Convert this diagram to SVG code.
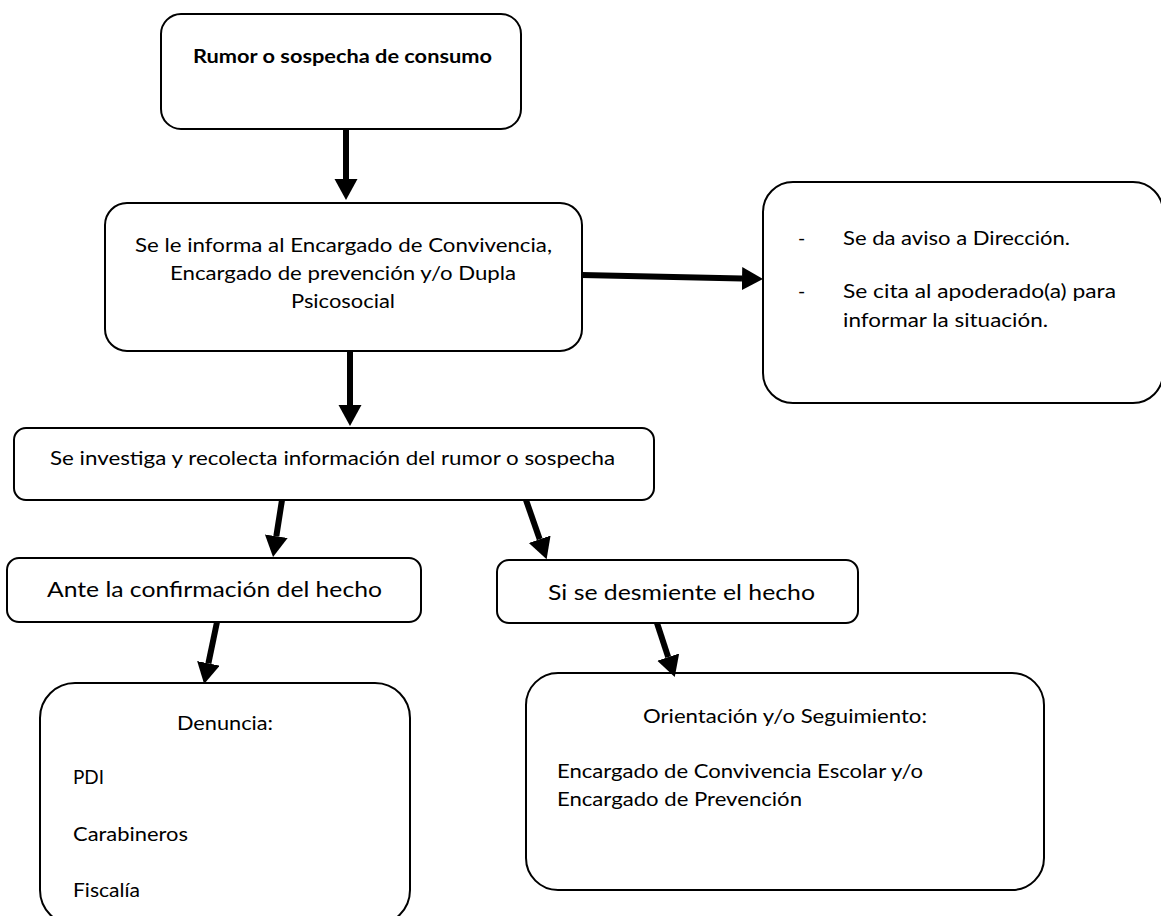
<svg xmlns="http://www.w3.org/2000/svg" width="1161" height="916" viewBox="0 0 1161 916">
<style>
.box{fill:#fff;stroke:#000;stroke-width:2}
.t{font-family:Lato,"Liberation Sans",sans-serif;font-size:19.5px;fill:#000}
.big{font-size:22px}
.b{font-weight:bold}
.arr{stroke:#000;stroke-width:6;fill:none;marker-end:url(#ah)}
</style>
<defs>
<marker id="ah" markerUnits="userSpaceOnUse" markerWidth="22" markerHeight="24" refX="0" refY="11.5" orient="auto" viewBox="0 0 22 24">
<path d="M0,0 L21,11.5 L0,23 z" fill="#000"/>
</marker>
</defs>
<rect width="1161" height="916" fill="#fff"/>
<g id="n1">
<rect class="box" x="161" y="14" width="360" height="115" rx="20"/>
<text class="t b" x="193" y="63" textLength="299" lengthAdjust="spacingAndGlyphs">Rumor o sospecha de consumo</text>
</g>
<g id="n2">
<rect class="box" x="105" y="203" width="477" height="148" rx="22"/>
<text class="t" x="135" y="252" textLength="417" lengthAdjust="spacingAndGlyphs">Se le informa al Encargado de Convivencia,</text>
<text class="t" x="170" y="280" textLength="346" lengthAdjust="spacingAndGlyphs">Encargado de prevención y/o Dupla</text>
<text class="t" x="291" y="308" textLength="104" lengthAdjust="spacingAndGlyphs">Psicosocial</text>
</g>
<g id="n3">
<rect class="box" x="763" y="182" width="400" height="221" rx="30"/>
<text class="t" x="798" y="245">-</text>
<text class="t" x="843" y="245" textLength="227" lengthAdjust="spacingAndGlyphs">Se da aviso a Dirección.</text>
<text class="t" x="798" y="298">-</text>
<text class="t" x="843" y="298" textLength="273" lengthAdjust="spacingAndGlyphs">Se cita al apoderado(a) para</text>
<text class="t" x="843" y="327" textLength="205" lengthAdjust="spacingAndGlyphs">informar la situación.</text>
</g>
<g id="n4">
<rect class="box" x="14" y="428" width="640" height="72" rx="12"/>
<text class="t" x="50" y="465" textLength="565" lengthAdjust="spacingAndGlyphs">Se investiga y recolecta información del rumor o sospecha</text>
</g>
<g id="n5">
<rect class="box" x="7" y="558" width="414" height="64" rx="12"/>
<text class="t big" x="47" y="597" textLength="335" lengthAdjust="spacingAndGlyphs">Ante la confirmación del hecho</text>
</g>
<g id="n6">
<rect class="box" x="497" y="560" width="361" height="63" rx="12"/>
<text class="t big" x="548" y="600" textLength="267" lengthAdjust="spacingAndGlyphs">Si se desmiente el hecho</text>
</g>
<g id="n7">
<rect class="box" x="526" y="673" width="518" height="217" rx="32"/>
<text class="t" x="643" y="723" textLength="284" lengthAdjust="spacingAndGlyphs">Orientación y/o Seguimiento:</text>
<text class="t" x="557" y="778" textLength="366" lengthAdjust="spacingAndGlyphs">Encargado de Convivencia Escolar y/o</text>
<text class="t" x="557" y="806" textLength="245" lengthAdjust="spacingAndGlyphs">Encargado de Prevención</text>
</g>
<g id="n8">
<rect class="box" x="40" y="683" width="370" height="242" rx="35"/>
<text class="t" x="177" y="730" textLength="96" lengthAdjust="spacingAndGlyphs">Denuncia:</text>
<text class="t" x="73" y="784" textLength="31" lengthAdjust="spacingAndGlyphs">PDI</text>
<text class="t" x="73" y="841" textLength="115" lengthAdjust="spacingAndGlyphs">Carabineros</text>
<text class="t" x="73" y="897" textLength="67" lengthAdjust="spacingAndGlyphs">Fiscalía</text>
</g>
<g id="connectors">
<line class="arr" x1="346" y1="129" x2="346" y2="179"/>
<line class="arr" x1="350" y1="351" x2="350" y2="405"/>
<line class="arr" x1="582" y1="275" x2="742" y2="278.6"/>
<line class="arr" x1="282" y1="500" x2="276.3" y2="536.2"/>
<line class="arr" x1="526" y1="500" x2="539.7" y2="539.3"/>
<line class="arr" x1="217" y1="622" x2="208.4" y2="663.4"/>
<line class="arr" x1="657" y1="623" x2="668.2" y2="657.1"/>
</g>
</svg>
